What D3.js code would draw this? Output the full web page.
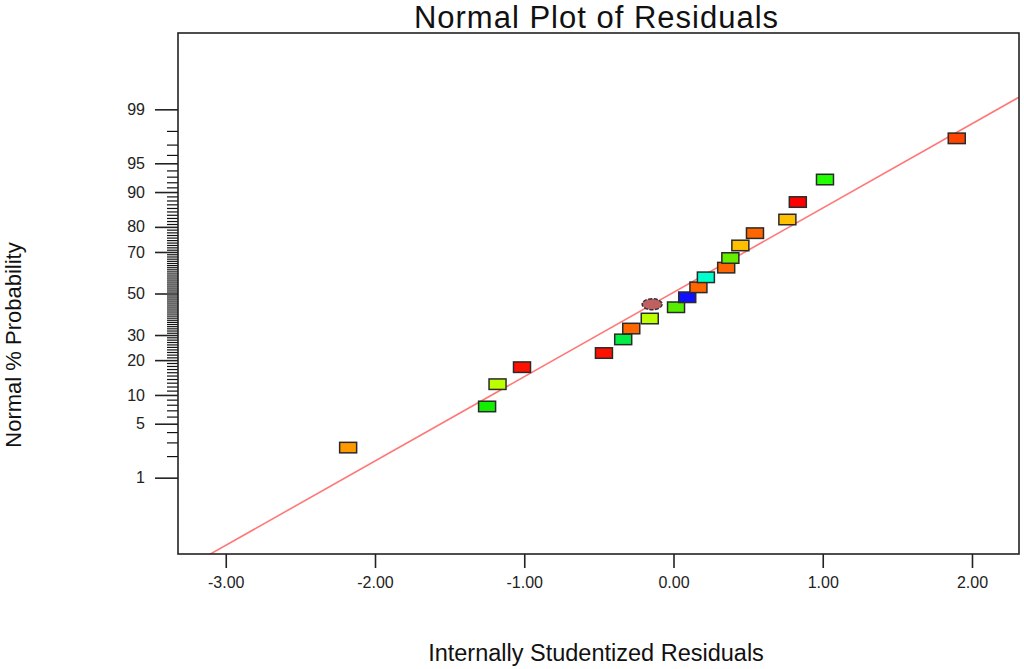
<!DOCTYPE html>
<html>
<head>
<meta charset="utf-8">
<script src="https://cdn.jsdelivr.net/npm/d3@7/dist/d3.min.js"></script>
<style>
  html, body { margin: 0; padding: 0; background: #fff; }
  svg { display: block; font-family: "Liberation Sans", Arial, sans-serif; }
</style>
</head>
<body>
<svg id="chart" width="1024" height="669"></svg>
<script>
// ---- data ----
const residuals = [-2.180, -1.249, -1.179, -1.015, -0.466, -0.337, -0.283, -0.159, 0.017, 0.092,
                   0.167, 0.217, 0.353, 0.381, 0.448, 0.546, 0.763, 0.833, 1.015, 1.898];
const probabilities = [2.58, 7.68, 12.6, 17.6, 22.6, 28.1, 32.9, 37.6, 43.1, 48.1,
                       53.1, 58.1, 62.8, 67.3, 72.8, 77.7, 82.5, 87.6, 92.5, 97.5];
const pointColors = ["#FF9900", "#11EE00", "#BBFF00", "#FF1100", "#FF1100", "#00EE44", "#FF6600", "#BBFF00", "#55EE00", "#1010FF",
                     "#FF6600", "#00FFCC", "#FF6600", "#66EE00", "#FFC000", "#FF6600", "#FFC000", "#FF0000", "#22FF00", "#FF4400"];
const highlightPoint = { residual: -0.143, probability: 44.6, color: "#C06060" };
const fitIntercept = 0.014;   // normal-quantile units
const fitSlope = 1.065;
const xTickValues = [-3, -2, -1, 0, 1, 2];
const xTickLabels = ["-3.00", "-2.00", "-1.00", "0.00", "1.00", "2.00"];
const yMajorValues = [1, 5, 10, 20, 30, 50, 70, 80, 90, 95, 99];
const yMajorLabels = ["1", "5", "10", "20", "30", "50", "70", "80", "90", "95", "99"];
const yMinorValues = d3.range(2, 99).filter(v => !yMajorValues.includes(v));
const xDomain = [-3.32, 2.315];
const yDomainProb = [0.05, 99.95];

// ---- inverse normal CDF (Acklam) ----
function probit(p) {
  const a = [-3.969683028665376e+01, 2.209460984245205e+02, -2.759285104469687e+02, 1.383577518672690e+02, -3.066479806614716e+01, 2.506628277459239e+00];
  const b = [-5.447609879822406e+01, 1.615858368580409e+02, -1.556989798598866e+02, 6.680131188771972e+01, -1.328068155288572e+01];
  const c = [-7.784894002430293e-03, -3.223964580411365e-01, -2.400758277161838e+00, -2.549732539343734e+00, 4.374664141464968e+00, 2.938163982698783e+00];
  const d = [7.784695709041462e-03, 3.224671290700398e-01, 2.445134137142996e+00, 3.754408661907416e+00];
  const pl = 0.02425, ph = 1 - pl;
  let q, r;
  if (p < pl) {
    q = Math.sqrt(-2 * Math.log(p));
    return (((((c[0]*q+c[1])*q+c[2])*q+c[3])*q+c[4])*q+c[5]) / ((((d[0]*q+d[1])*q+d[2])*q+d[3])*q+1);
  } else if (p <= ph) {
    q = p - 0.5; r = q * q;
    return (((((a[0]*r+a[1])*r+a[2])*r+a[3])*r+a[4])*r+a[5])*q / (((((b[0]*r+b[1])*r+b[2])*r+b[3])*r+b[4])*r+1);
  } else {
    q = Math.sqrt(-2 * Math.log(1 - p));
    return -(((((c[0]*q+c[1])*q+c[2])*q+c[3])*q+c[4])*q+c[5]) / ((((d[0]*q+d[1])*q+d[2])*q+d[3])*q+1);
  }
}
const pz = p => probit(p / 100);

// ---- layout ----
const svg = d3.select("#chart");
const L = 178, R = 1019, T = 33, B = 554;

const x = d3.scaleLinear().domain(xDomain).range([L, R]);
const yz = d3.scaleLinear().domain([pz(yDomainProb[0]), pz(yDomainProb[1])]).range([B, T]);

// clip
svg.append("defs").append("clipPath").attr("id", "plotclip")
  .append("rect").attr("x", L).attr("y", T).attr("width", R - L).attr("height", B - T);

// fit line
const lineGen = d3.line().x(d => x(d)).y(d => yz(fitIntercept + fitSlope * d));
svg.append("path")
  .datum(xDomain)
  .attr("clip-path", "url(#plotclip)")
  .attr("d", lineGen)
  .attr("fill", "none")
  .attr("stroke", "#FF7878")
  .attr("stroke-width", 1.6);

// y axis minor ticks
const yMinor = d3.axisLeft(yz).tickValues(yMinorValues.map(pz)).tickSize(11).tickFormat("");
svg.append("g").attr("transform", `translate(${L},0)`).call(yMinor)
  .call(g => g.select(".domain").remove())
  .call(g => g.selectAll("line").attr("stroke", "#111").attr("stroke-width", 1.2));

// y axis major ticks
const yMajor = d3.axisLeft(yz).tickValues(yMajorValues.map(pz)).tickSize(23).tickPadding(10)
  .tickFormat((d, i) => yMajorLabels[i]);
svg.append("g").attr("transform", `translate(${L},0)`).call(yMajor)
  .call(g => g.select(".domain").remove())
  .call(g => g.selectAll("line").attr("stroke", "#222").attr("stroke-width", 1.6))
  .call(g => g.selectAll("text").attr("font-size", 16).attr("fill", "#222")
      .attr("font-family", "'Liberation Sans', Arial, sans-serif"));

// x axis
const xAxis = d3.axisBottom(x).tickValues(xTickValues).tickSize(14).tickPadding(9)
  .tickFormat((d, i) => xTickLabels[i]);
svg.append("g").attr("transform", `translate(0,${B})`).call(xAxis)
  .call(g => g.select(".domain").remove())
  .call(g => g.selectAll("line").attr("stroke", "#222").attr("stroke-width", 1.6))
  .call(g => g.selectAll("text").attr("font-size", 16).attr("fill", "#222")
      .attr("font-family", "'Liberation Sans', Arial, sans-serif"));

// frame
svg.append("rect").attr("x", L).attr("y", T).attr("width", R - L).attr("height", B - T)
  .attr("fill", "none").attr("stroke", "#222").attr("stroke-width", 1.6);

// highlighted point (ellipse)
svg.append("ellipse")
  .attr("cx", x(highlightPoint.residual))
  .attr("cy", yz(pz(highlightPoint.probability)))
  .attr("rx", 10).attr("ry", 5.5)
  .attr("fill", highlightPoint.color)
  .attr("stroke", "#333").attr("stroke-width", 1.5)
  .attr("stroke-dasharray", "4,1.5");

// points
const pts = residuals.map((r, i) => ({ r, p: probabilities[i], c: pointColors[i] }));
const rw = 17, rh = 10.5;
svg.append("g").selectAll("rect").data(pts).join("rect")
  .attr("x", d => x(d.r) - rw / 2)
  .attr("y", d => yz(pz(d.p)) - rh / 2)
  .attr("width", rw).attr("height", rh)
  .attr("fill", d => d.c)
  .attr("stroke", "#2a2a2a").attr("stroke-width", 1.5);

// titles
svg.append("text").attr("x", (L + R) / 2 - 2).attr("y", 28)
  .attr("text-anchor", "middle").attr("font-size", 31).attr("letter-spacing", 1).attr("fill", "#111")
  .text("Normal Plot of Residuals");
svg.append("text").attr("x", 596).attr("y", 661)
  .attr("text-anchor", "middle").attr("font-size", 23.5).attr("fill", "#111")
  .text("Internally Studentized Residuals");
svg.append("text").attr("transform", "translate(21,345) rotate(-90)")
  .attr("text-anchor", "middle").attr("font-size", 22).attr("fill", "#111")
  .text("Normal % Probability");
</script>
</body>
</html>
